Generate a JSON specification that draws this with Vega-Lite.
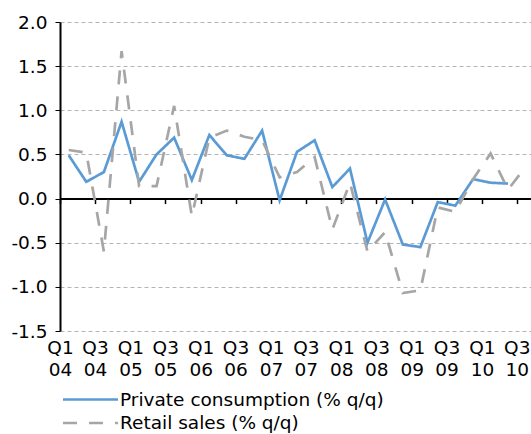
{
  "$schema": "https://vega.github.io/schema/vega-lite/v6.json",
  "width": 471,
  "height": 309,
  "autosize": {"type": "none"},
  "padding": {"left": 60, "top": 22, "right": 0, "bottom": 103},
  "background": "white",
  "config": {"font": "DejaVu Sans", "view": {"stroke": null}},
  "data": {
    "values": [
      {"date": "2004-01-01", "series": "Private consumption (% q/q)", "value": 0.49},
      {"date": "2004-04-01", "series": "Private consumption (% q/q)", "value": 0.19},
      {"date": "2004-07-01", "series": "Private consumption (% q/q)", "value": 0.30},
      {"date": "2004-10-01", "series": "Private consumption (% q/q)", "value": 0.87},
      {"date": "2005-01-01", "series": "Private consumption (% q/q)", "value": 0.19},
      {"date": "2005-04-01", "series": "Private consumption (% q/q)", "value": 0.50},
      {"date": "2005-07-01", "series": "Private consumption (% q/q)", "value": 0.69},
      {"date": "2005-10-01", "series": "Private consumption (% q/q)", "value": 0.21},
      {"date": "2006-01-01", "series": "Private consumption (% q/q)", "value": 0.72},
      {"date": "2006-04-01", "series": "Private consumption (% q/q)", "value": 0.49},
      {"date": "2006-07-01", "series": "Private consumption (% q/q)", "value": 0.45},
      {"date": "2006-10-01", "series": "Private consumption (% q/q)", "value": 0.77},
      {"date": "2007-01-01", "series": "Private consumption (% q/q)", "value": -0.02},
      {"date": "2007-04-01", "series": "Private consumption (% q/q)", "value": 0.53},
      {"date": "2007-07-01", "series": "Private consumption (% q/q)", "value": 0.66},
      {"date": "2007-10-01", "series": "Private consumption (% q/q)", "value": 0.13},
      {"date": "2008-01-01", "series": "Private consumption (% q/q)", "value": 0.34},
      {"date": "2008-04-01", "series": "Private consumption (% q/q)", "value": -0.50},
      {"date": "2008-07-01", "series": "Private consumption (% q/q)", "value": -0.01},
      {"date": "2008-10-01", "series": "Private consumption (% q/q)", "value": -0.52},
      {"date": "2009-01-01", "series": "Private consumption (% q/q)", "value": -0.55},
      {"date": "2009-04-01", "series": "Private consumption (% q/q)", "value": -0.04},
      {"date": "2009-07-01", "series": "Private consumption (% q/q)", "value": -0.08},
      {"date": "2009-10-01", "series": "Private consumption (% q/q)", "value": 0.22},
      {"date": "2010-01-01", "series": "Private consumption (% q/q)", "value": 0.18},
      {"date": "2010-04-01", "series": "Private consumption (% q/q)", "value": 0.17},
      {"date": "2004-01-01", "series": "Retail sales (% q/q)", "value": 0.55},
      {"date": "2004-04-01", "series": "Retail sales (% q/q)", "value": 0.52},
      {"date": "2004-07-01", "series": "Retail sales (% q/q)", "value": -0.60},
      {"date": "2004-10-01", "series": "Retail sales (% q/q)", "value": 1.67},
      {"date": "2005-01-01", "series": "Retail sales (% q/q)", "value": 0.14},
      {"date": "2005-04-01", "series": "Retail sales (% q/q)", "value": 0.14},
      {"date": "2005-07-01", "series": "Retail sales (% q/q)", "value": 1.05},
      {"date": "2005-10-01", "series": "Retail sales (% q/q)", "value": -0.20},
      {"date": "2006-01-01", "series": "Retail sales (% q/q)", "value": 0.69},
      {"date": "2006-04-01", "series": "Retail sales (% q/q)", "value": 0.77},
      {"date": "2006-07-01", "series": "Retail sales (% q/q)", "value": 0.70},
      {"date": "2006-10-01", "series": "Retail sales (% q/q)", "value": 0.66},
      {"date": "2007-01-01", "series": "Retail sales (% q/q)", "value": 0.24},
      {"date": "2007-04-01", "series": "Retail sales (% q/q)", "value": 0.30},
      {"date": "2007-07-01", "series": "Retail sales (% q/q)", "value": 0.47},
      {"date": "2007-10-01", "series": "Retail sales (% q/q)", "value": -0.35},
      {"date": "2008-01-01", "series": "Retail sales (% q/q)", "value": 0.18},
      {"date": "2008-04-01", "series": "Retail sales (% q/q)", "value": -0.60},
      {"date": "2008-07-01", "series": "Retail sales (% q/q)", "value": -0.38},
      {"date": "2008-10-01", "series": "Retail sales (% q/q)", "value": -1.07},
      {"date": "2009-01-01", "series": "Retail sales (% q/q)", "value": -1.04},
      {"date": "2009-04-01", "series": "Retail sales (% q/q)", "value": -0.10},
      {"date": "2009-07-01", "series": "Retail sales (% q/q)", "value": -0.15},
      {"date": "2009-10-01", "series": "Retail sales (% q/q)", "value": 0.22},
      {"date": "2010-01-01", "series": "Retail sales (% q/q)", "value": 0.51},
      {"date": "2010-04-01", "series": "Retail sales (% q/q)", "value": 0.10},
      {"date": "2010-07-01", "series": "Retail sales (% q/q)", "value": 0.36}
    ]
  },
  "encoding": {
    "y": {
      "field": "value",
      "type": "quantitative",
      "scale": {"domain": [-1.5, 2], "nice": false, "zero": false},
      "axis": {
        "title": null,
        "values": [-1.5, -1, -0.5, 0, 0.5, 1, 1.5, 2],
        "labelExpr": "replace(format(datum.value, '.1f'), '\u2212', '-')",
        "labelFontSize": 18.5,
        "labelColor": "black",
        "labelPadding": 8,
        "tickSize": 5,
        "tickColor": "black",
        "tickWidth": 1,
        "domainColor": "black",
        "domainWidth": 2,
        "grid": true,
        "gridColor": "#b4b4b4",
        "gridDash": [4, 3],
        "gridWidth": 1
      }
    }
  },
  "layer": [
    {
      "mark": {"type": "line", "strokeWidth": 2.7},
      "encoding": {
        "x": {
          "field": "date",
          "type": "temporal",
          "timeUnit": "utcyearquarter",
          "bandPosition": 0.5,
          "scale": {"domain": [{"year": 2004, "month": 1, "date": 1, "utc": true}, {"year": 2010, "month": 9, "date": 13, "utc": true}]},
          "axis": {
            "orient": "bottom",
            "title": null,
            "domain": false,
            "ticks": false,
            "grid": false,
            "labelPadding": 7.5,
            "labelFontSize": 18.5,
            "labelColor": "black",
            "labelLineHeight": 22.3,
            "labelFlush": false,
            "labelOverlap": false,
            "labelBound": false,
            "values": [
              {"year": 2004, "month": 1, "date": 1, "utc": true}, {"year": 2004, "month": 7, "date": 1, "utc": true},
              {"year": 2005, "month": 1, "date": 1, "utc": true}, {"year": 2005, "month": 7, "date": 1, "utc": true},
              {"year": 2006, "month": 1, "date": 1, "utc": true}, {"year": 2006, "month": 7, "date": 1, "utc": true},
              {"year": 2007, "month": 1, "date": 1, "utc": true}, {"year": 2007, "month": 7, "date": 1, "utc": true},
              {"year": 2008, "month": 1, "date": 1, "utc": true}, {"year": 2008, "month": 7, "date": 1, "utc": true},
              {"year": 2009, "month": 1, "date": 1, "utc": true}, {"year": 2009, "month": 7, "date": 1, "utc": true},
              {"year": 2010, "month": 1, "date": 1, "utc": true}, {"year": 2010, "month": 7, "date": 1, "utc": true}
            ],
            "labelExpr": "['Q' + (floor(utcmonth(datum.value) / 3) + 1), utcFormat(datum.value, '%y')]"
          }
        },
        "color": {
          "field": "series",
          "type": "nominal",
          "scale": {"domain": ["Private consumption (% q/q)", "Retail sales (% q/q)"], "range": ["#5b9bd5", "#a6a6a6"]},
          "legend": {
            "title": null,
            "orient": "none",
            "legendX": 19,
            "legendY": 366,
            "padding": 0,
            "rowPadding": 2.5,
            "symbolType": "M-2.75,0H2.75",
            "symbolSize": 400,
            "symbolStrokeWidth": 2.7,
            "labelFontSize": 18.5,
            "labelColor": "black",
            "labelOffset": 18,
            "labelLimit": 400
          }
        },
        "strokeDash": {
          "field": "series",
          "type": "nominal",
          "scale": {"domain": ["Private consumption (% q/q)", "Retail sales (% q/q)"], "range": [[1, 0], [14, 12]]},
          "legend": {
            "title": null,
            "orient": "none",
            "legendX": 19,
            "legendY": 366,
            "padding": 0,
            "rowPadding": 2.5,
            "symbolType": "M-2.75,0H2.75",
            "symbolSize": 400,
            "symbolStrokeWidth": 2.7,
            "labelFontSize": 18.5,
            "labelColor": "black",
            "labelOffset": 18,
            "labelLimit": 400
          }
        }
      }
    },
    {
      "mark": {"type": "line", "opacity": 0},
      "encoding": {
        "detail": {"field": "series", "type": "nominal"},
        "x": {
          "field": "date",
          "type": "temporal",
          "timeUnit": "utcyearquarter",
          "bandPosition": 0.5,
          "axis": {
            "orient": "bottom",
            "title": null,
            "offset": -132.43,
            "labels": false,
            "grid": false,
            "domain": true,
            "domainColor": "black",
            "domainWidth": 2,
            "ticks": true,
            "tickColor": "black",
            "tickSize": 5,
            "tickWidth": 1.5,
            "values": [
              {"year": 2004, "month": 1, "date": 1, "utc": true}, {"year": 2004, "month": 7, "date": 1, "utc": true},
              {"year": 2005, "month": 1, "date": 1, "utc": true}, {"year": 2005, "month": 7, "date": 1, "utc": true},
              {"year": 2006, "month": 1, "date": 1, "utc": true}, {"year": 2006, "month": 7, "date": 1, "utc": true},
              {"year": 2007, "month": 1, "date": 1, "utc": true}, {"year": 2007, "month": 7, "date": 1, "utc": true},
              {"year": 2008, "month": 1, "date": 1, "utc": true}, {"year": 2008, "month": 7, "date": 1, "utc": true},
              {"year": 2009, "month": 1, "date": 1, "utc": true}, {"year": 2009, "month": 7, "date": 1, "utc": true},
              {"year": 2010, "month": 1, "date": 1, "utc": true}, {"year": 2010, "month": 7, "date": 1, "utc": true}
            ]
          }
        }
      }
    }
  ],
  "resolve": {"axis": {"x": "independent"}}
}
